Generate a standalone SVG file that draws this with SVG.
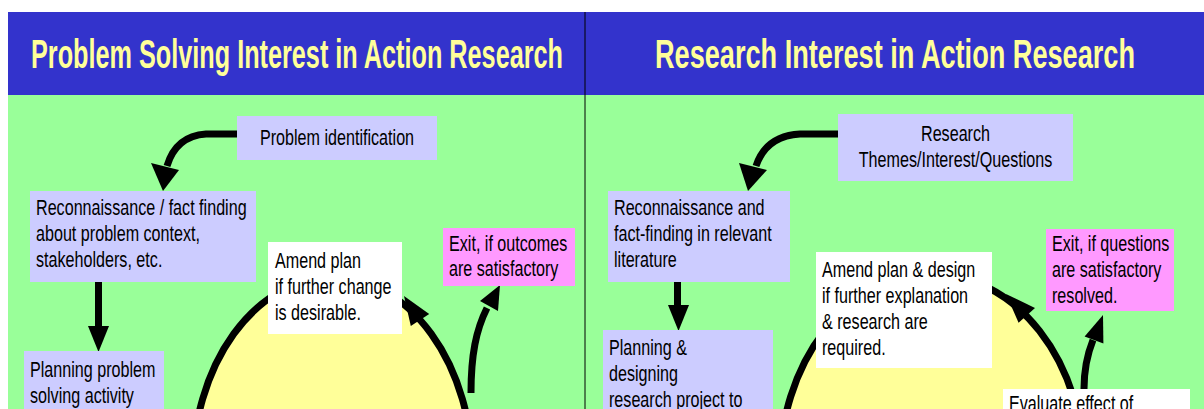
<svg xmlns="http://www.w3.org/2000/svg" width="1204" height="409" viewBox="0 0 1204 409">
<style>
.t{font-family:"Liberation Sans",Arial,sans-serif;font-size:21.5px;fill:#000}
.h{font-family:"Liberation Sans",Arial,sans-serif;font-size:40px;font-weight:bold;fill:#FFFF99}
.lav{fill:#CCCCFF}
.wht{fill:#FFFFFF}
.pnk{fill:#FF99FF}
.ell{fill:#FFFF99;stroke:#000;stroke-width:7}
.cv{fill:none;stroke:#000;stroke-width:7}
.hd{fill:#000}
</style>
<rect x="0" y="0" width="1204" height="409" fill="#FFFFFF"/>
<rect x="8" y="12" width="1196" height="397" fill="#99FF99"/>
<rect x="8" y="12" width="1196" height="83" fill="#3333CC"/>
<line x1="585" y1="12" x2="585" y2="409" stroke="#000" stroke-width="1"/>
<text class="h" x="31" y="68" textLength="532" lengthAdjust="spacingAndGlyphs">Problem Solving Interest in Action Research</text>
<text class="h" x="655" y="68" textLength="480" lengthAdjust="spacingAndGlyphs">Research Interest in Action Research</text>

<g id="cycle-left"><ellipse class="ell" cx="332.5" cy="470" rx="139.7" ry="192.5"/></g>
<g id="cycle-right"><ellipse class="ell" cx="932" cy="468" rx="152" ry="194"/></g>

<g id="connectors">
<path class="cv" d="M237,134 L206,134 Q176,136 167,166"/>
<polygon class="hd" points="151,163 179,170 163,191"/>
<rect x="95" y="282" width="7" height="45" class="hd"/>
<polygon class="hd" points="88,326 109,326 98.5,352"/>
<path class="cv" d="M471,393 C471,355 476,330 487,308"/>
<polygon class="hd" points="480,301 498,311 500,285"/>
<path class="cv" d="M838,134 L800,134 Q766,136 756,166"/>
<polygon class="hd" points="739,163 767,170 748,191"/>
<rect x="674" y="282" width="7" height="25" class="hd"/>
<polygon class="hd" points="668,305 689,305 678.5,331"/>
<path class="cv" d="M1084,389 C1084,370 1087,355 1093,340"/>
<polygon class="hd" points="1084.6,336.6 1103.4,343.4 1103,315"/>
</g>

<g id="n-problem-identification"><rect class="lav" x="237" y="116" width="200" height="44"/>
<text class="t" text-anchor="middle" transform="translate(337,145) scale(0.75,1)">Problem identification</text></g>

<g id="n-recon-left"><rect class="lav" x="30" y="191" width="226" height="91"/>
<text class="t" transform="translate(36,215) scale(0.75,1)"><tspan x="0" y="0">Reconnaissance / fact finding</tspan><tspan x="0" y="26">about problem context,</tspan><tspan x="0" y="52">stakeholders, etc.</tspan></text></g>

<g id="n-planning-left"><rect class="lav" x="24" y="351" width="140" height="60"/>
<text class="t" transform="translate(30,377) scale(0.75,1)"><tspan x="0" y="0">Planning problem</tspan><tspan x="0" y="26">solving activity</tspan></text></g>

<g id="n-amend-left"><rect class="wht" x="268" y="242" width="134" height="92"/>
<text class="t" transform="translate(275,268) scale(0.75,1)"><tspan x="0" y="0">Amend plan</tspan><tspan x="0" y="26">if further change</tspan><tspan x="0" y="52">is desirable.</tspan></text></g>
<polygon class="hd" points="429.2,313.9 410.8,326.1 404,296"/>

<g id="n-exit-left"><rect class="pnk" x="443" y="228" width="132" height="58"/>
<text class="t" transform="translate(449,251) scale(0.75,1)"><tspan x="0" y="0">Exit, if outcomes</tspan><tspan x="0" y="25">are satisfactory</tspan></text></g>

<g id="n-research-themes"><rect class="lav" x="838" y="114" width="235" height="67"/>
<text class="t" text-anchor="middle" transform="translate(955.5,141) scale(0.75,1)"><tspan x="0" y="0">Research</tspan><tspan x="0" y="26">Themes/Interest/Questions</tspan></text></g>

<g id="n-recon-right"><rect class="lav" x="608" y="191" width="182" height="91"/>
<text class="t" transform="translate(614,215) scale(0.75,1)"><tspan x="0" y="0">Reconnaissance and</tspan><tspan x="0" y="26">fact-finding in relevant</tspan><tspan x="0" y="52">literature</tspan></text></g>

<g id="n-planning-right"><rect class="lav" x="603" y="330" width="170" height="80"/>
<text class="t" transform="translate(609,355) scale(0.75,1)"><tspan x="0" y="0">Planning &amp;</tspan><tspan x="0" y="26">designing</tspan><tspan x="0" y="52">research project to</tspan></text></g>

<g id="n-amend-right"><rect class="wht" x="816" y="252" width="176" height="116"/>
<text class="t" transform="translate(822,277) scale(0.75,1)"><tspan x="0" y="0">Amend plan &amp; design</tspan><tspan x="0" y="26">if further explanation</tspan><tspan x="0" y="52">&amp; research are</tspan><tspan x="0" y="78">required.</tspan></text></g>
<polygon class="hd" points="1035,308 1018.6,322.8 1006,294"/>

<g id="n-exit-right"><rect class="pnk" x="1046" y="229" width="128" height="82"/>
<text class="t" transform="translate(1052,251) scale(0.75,1)"><tspan x="0" y="0">Exit, if questions</tspan><tspan x="0" y="26">are satisfactory</tspan><tspan x="0" y="52">resolved.</tspan></text></g>

<g id="n-evaluate-right"><rect class="wht" x="1003" y="389" width="187" height="20"/>
<text class="t" transform="translate(1009,411) scale(0.75,1)">Evaluate effect of</text></g>
</svg>
